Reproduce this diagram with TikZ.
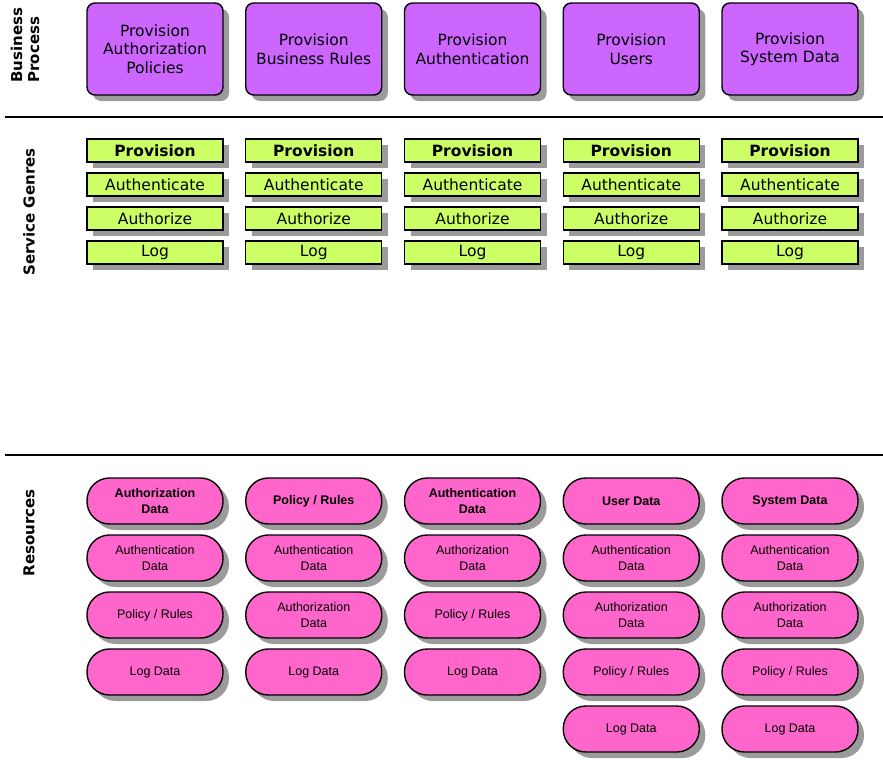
\documentclass[tikz,border=0pt]{standalone}
\usepackage{fontspec}
\setmainfont{DejaVu Sans}
\newfontfamily\arialf{Liberation Sans}
\usetikzlibrary{shadows}
\definecolor{bpfill}{RGB}{204,102,255}
\definecolor{sgfill}{RGB}{204,255,102}
\definecolor{rsfill}{RGB}{255,102,204}
\definecolor{shgray}{RGB}{155,155,155}
\tikzset{
  shad/.style={drop shadow={shadow xshift=6pt, shadow yshift=-6pt, fill=shgray, opacity=1}},
  bpbox/.style={shad, draw=black, line width=1.4pt, fill=bpfill, rounded corners=8pt,
    minimum width=136pt, minimum height=92pt, inner sep=0pt, align=center,
    font=\fontsize{15.5}{18.5}\selectfont},
  sgbox/.style={shad, draw=black, line width=1.4pt, fill=sgfill,
    minimum width=136pt, minimum height=23pt, inner sep=0pt, align=center,
    font=\fontsize{15.5}{18.5}\selectfont},
  rsbox/.style={shad, draw=black, line width=1.4pt, fill=rsfill, rounded corners=22.5pt,
    minimum width=136pt, minimum height=46pt, inner sep=0pt, align=center,
    font=\arialf\fontsize{12.5}{16}\selectfont},
  sectlabel/.style={rotate=90, font=\bfseries\fontsize{15}{17}\selectfont, inner sep=0pt},
  sepline/.style={line width=1.4pt, draw=black},
}
\begin{document}
\begin{tikzpicture}[x=1pt,y=1pt]
\useasboundingbox (0,0) rectangle (883,-761);
% separators
\coordinate (l1a) at (5,-117); \coordinate (l1b) at (883,-117);
\coordinate (l2a) at (5,-455); \coordinate (l2b) at (883,-455);
\draw[sepline] (l1a) -- (l1b);
\draw[sepline] (l2a) -- (l2b);
% section labels
\node[sectlabel, align=left, anchor=center] (lbp) at (25,-45) {Business\\Process};
\node[sectlabel] (lsg) at (29,-212) {Service Genres};
\node[sectlabel] (lrs) at (29,-533) {Resources};
% business process
\foreach \i/\t in {1/{Provision\\Authorization\\Policies},2/{Provision\\Business Rules},3/{Provision\\Authentication},4/{Provision\\Users},5/{Provision\\System Data}}{
  \node[bpbox] (bp\i) at ({155+158.75*(\i-1)},-49) {\t};
}
% service genres
\foreach \i in {1,...,5}{
  \node[sgbox] (sg\i a) at ({155+158.75*(\i-1)},-150.5) {\textbf{Provision}};
  \node[sgbox] (sg\i b) at ({155+158.75*(\i-1)},-184.5) {Authenticate};
  \node[sgbox] (sg\i c) at ({155+158.75*(\i-1)},-218.5) {Authorize};
  \node[sgbox] (sg\i d) at ({155+158.75*(\i-1)},-252.5) {Log};
}
% resources
\def\cx#1{{155+158.75*(#1-1)}}
\node[rsbox] (rs1a) at (155,-501) {\textbf{Authorization}\\\textbf{Data}};
\node[rsbox] (rs1b) at (155,-558) {Authentication\\Data};
\node[rsbox] (rs1c) at (155,-615) {Policy / Rules};
\node[rsbox] (rs1d) at (155,-672) {Log Data};
\node[rsbox] (rs2a) at (313.75,-501) {\textbf{Policy / Rules}};
\node[rsbox] (rs2b) at (313.75,-558) {Authentication\\Data};
\node[rsbox] (rs2c) at (313.75,-615) {Authorization\\Data};
\node[rsbox] (rs2d) at (313.75,-672) {Log Data};
\node[rsbox] (rs3a) at (472.5,-501) {\textbf{Authentication}\\\textbf{Data}};
\node[rsbox] (rs3b) at (472.5,-558) {Authorization\\Data};
\node[rsbox] (rs3c) at (472.5,-615) {Policy / Rules};
\node[rsbox] (rs3d) at (472.5,-672) {Log Data};
\node[rsbox] (rs4a) at (631.25,-501) {\textbf{User Data}};
\node[rsbox] (rs4b) at (631.25,-558) {Authentication\\Data};
\node[rsbox] (rs4c) at (631.25,-615) {Authorization\\Data};
\node[rsbox] (rs4d) at (631.25,-672) {Policy / Rules};
\node[rsbox] (rs4e) at (631.25,-729) {Log Data};
\node[rsbox] (rs5a) at (790,-501) {\textbf{System Data}};
\node[rsbox] (rs5b) at (790,-558) {Authentication\\Data};
\node[rsbox] (rs5c) at (790,-615) {Authorization\\Data};
\node[rsbox] (rs5d) at (790,-672) {Policy / Rules};
\node[rsbox] (rs5e) at (790,-729) {Log Data};
\end{tikzpicture}
\end{document}
